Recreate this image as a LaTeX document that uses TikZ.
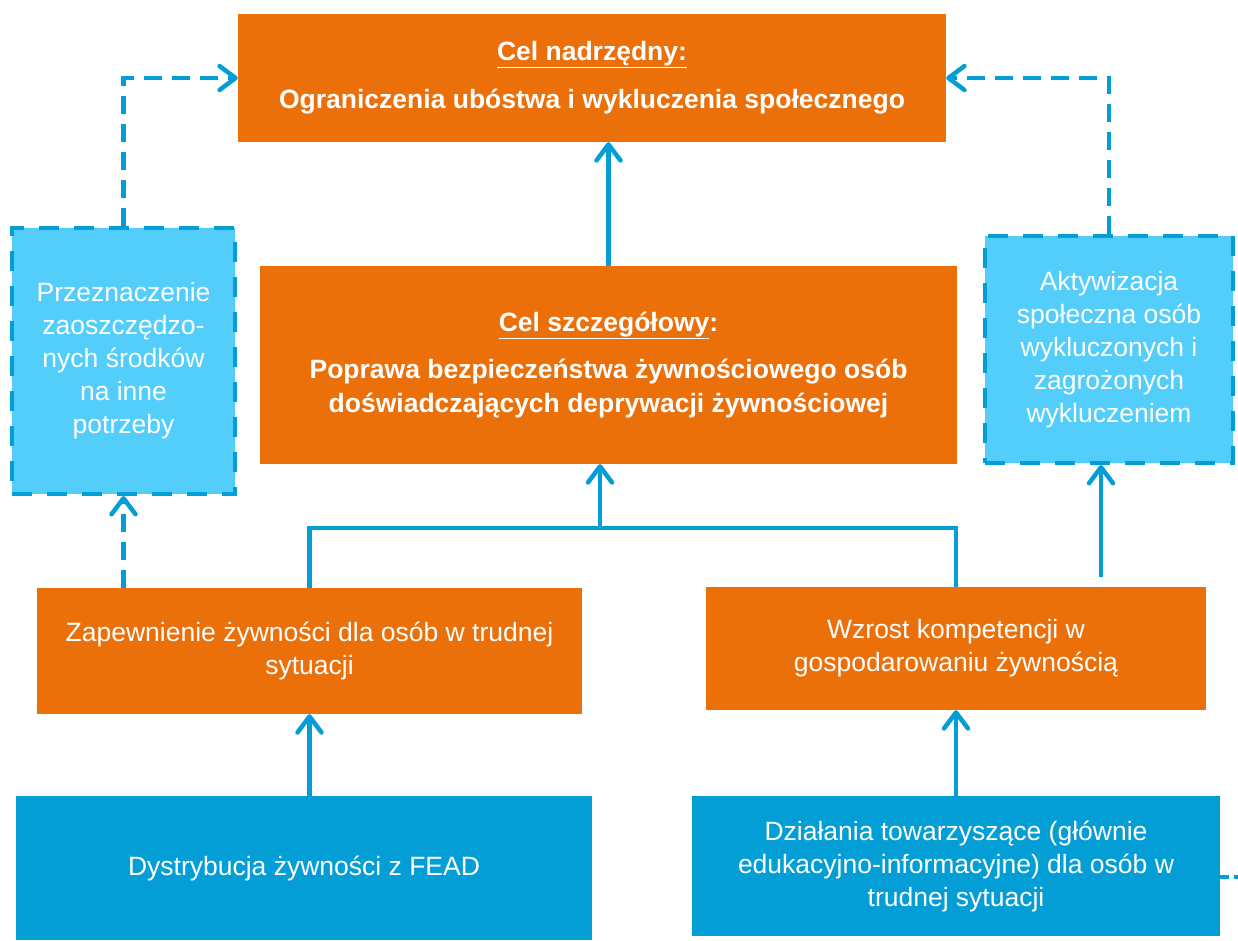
\documentclass[tikz,border=0pt]{standalone}
\usepackage{fontspec}
\setmainfont{Liberation Sans}
\usetikzlibrary{arrows.meta}
\definecolor{orng}{RGB}{235,112,9}
\definecolor{dblue}{RGB}{4,158,214}
\definecolor{lblue}{RGB}{83,205,250}
\begin{document}
\begin{tikzpicture}[x=1pt,y=-1pt,
 box/.style={fill=orng, text=white, align=center, inner sep=0pt, font=\fontsize{26.5}{33}\selectfont},
 obox/.style={box},
 bbox/.style={box, fill=dblue},
 lbox/.style={box, fill=lblue, draw=dblue, line width=4pt, dash pattern=on 20pt off 15pt},
 line/.style={draw=dblue, line width=4.5pt},
 conn/.style={line, -{Straight Barb[length=16pt,width=24pt,line cap=round,line join=round]}},
 dconn/.style={conn, dash pattern=on 18pt off 10pt},
 dline/.style={line, dash pattern=on 9pt off 5pt},
]
\useasboundingbox (0,0) rectangle (1238,940);

\node[obox, minimum width=708pt, minimum height=128pt, font=\fontsize{26.5}{33}\selectfont\bfseries] (goal) at (592,78)
  {\underline{Cel nadrzędny:}\\[15pt]Ograniczenia ubóstwa i wykluczenia społecznego};
\node[obox, minimum width=697pt, minimum height=198pt, font=\fontsize{26.5}{34}\selectfont\bfseries] (spec) at (608.5,365)
  {\underline{Cel szczegółowy}:\\[13pt]Poprawa bezpieczeństwa żywnościowego osób\\doświadczających deprywacji żywnościowej};
\node[lbox, minimum width=223pt, minimum height=266pt] (left) at (123.5,361)
  {Przeznaczenie\\zaoszczędzo-\\nych środków\\na inne\\potrzeby};
\node[lbox, minimum width=248pt, minimum height=227pt] (right) at (1109,349.5)
  {Aktywizacja\\społeczna osób\\wykluczonych i\\zagrożonych\\wykluczeniem};
\node[obox, minimum width=545pt, minimum height=126pt] (zap) at (309.5,651)
  {Zapewnienie żywności dla osób w trudnej\\sytuacji};
\node[obox, minimum width=500pt, minimum height=123pt] (wz) at (956,648.5)
  {Wzrost kompetencji w\\gospodarowaniu żywnością};
\node[bbox, minimum width=576pt, minimum height=144pt] (dys) at (304,868)
  {Dystrybucja żywności z FEAD};
\node[bbox, minimum width=528pt, minimum height=140pt] (dz) at (956,866)
  {Działania towarzyszące (głównie\\edukacyjno-informacyjne) dla osób w\\trudnej sytuacji};

\coordinate (j) at (600,528);
\coordinate (h) at (1101,577);
\coordinate (e) at (1238,877);

\draw[conn] (spec.north) -- (spec.north |- goal.south);
\draw[line] (zap.north) -- (zap.north |- j) -- (j -| wz.north) -- (wz.north);
\draw[conn] (j) -- (j |- spec.south);
\draw[conn] (zap.south |- dys.north) -- (zap.south);
\draw[conn] (dz.north) -- (dz.north |- wz.south);
\draw[dconn] (zap.north -| left.south) -- (left.south);
\draw[dconn] (left.north) |- (goal.west);
\draw[dconn] (right.north) |- (goal.east);
\draw[conn] (h) -- (h |- right.south);
\draw[dline] (dz.east |- e) -- (e);
\end{tikzpicture}
\end{document}
